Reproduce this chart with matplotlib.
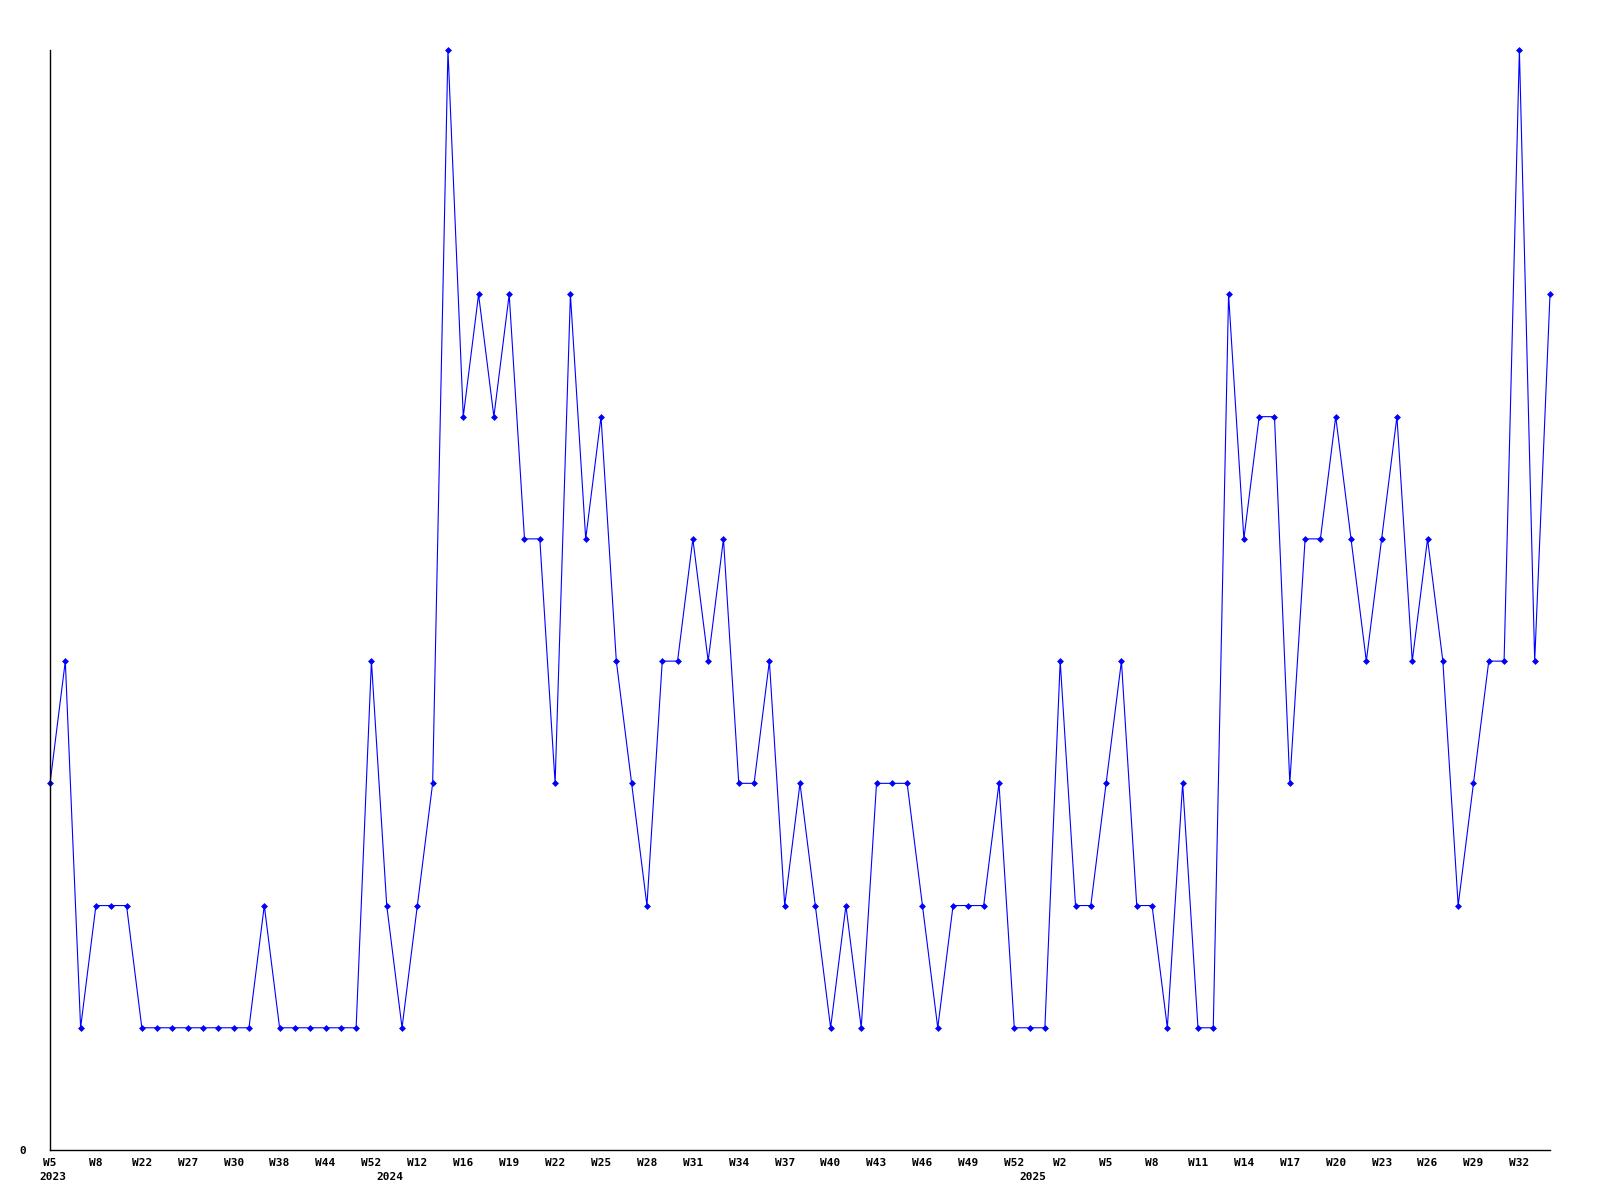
import matplotlib
matplotlib.use('Agg')
import matplotlib.pyplot as plt
import numpy as np

# weekly values, one per plotted week
values = [3, 4, 1, 2, 2, 2, 1, 1, 1, 1, 1, 1, 1, 1, 2, 1, 1, 1, 1, 1,
          1, 4, 2, 1, 2, 3, 9, 6, 7, 6, 7, 5, 5, 3, 7, 5, 6, 4, 3, 2,
          4, 4, 5, 4, 5, 3, 3, 4, 2, 3, 2, 1, 2, 1, 3, 3, 3, 2, 1, 2,
          2, 2, 3, 1, 1, 1, 4, 2, 2, 3, 4, 2, 2, 1, 3, 1, 1, 7, 5, 6,
          6, 3, 5, 5, 6, 5, 4, 5, 6, 4, 5, 4, 2, 3, 4, 4, 9, 4, 7]

# label shown under every third point
week_labels = ['W5', 'W8', 'W22', 'W27', 'W30', 'W38', 'W44', 'W52', 'W12', 'W16',
               'W19', 'W22', 'W25', 'W28', 'W31', 'W34', 'W37', 'W40', 'W43', 'W46',
               'W49', 'W52', 'W2', 'W5', 'W8', 'W11', 'W14', 'W17', 'W20', 'W23',
               'W26', 'W29', 'W32']
years = ['2023', '2024', '2025']
year_idx = [0, 22, 64]   # first plotted week of each year

x = np.arange(len(values))

fig = plt.figure(figsize=(16, 12), dpi=100)
ax = fig.add_axes([50/1600, 50/1200, 1500/1600, 1100/1200])

ax.plot(x, values, color='#0000ff', linewidth=0.8, marker='D', markersize=3,
        markeredgewidth=0.5, clip_on=False)

ax.set_xlim(0, len(values) - 1)
ax.set_ylim(0, 9)

for s in ['top', 'right']:
    ax.spines[s].set_visible(False)
for s in ['left', 'bottom']:
    ax.spines[s].set_linewidth(1.0)
    ax.spines[s].set_color('black')

font = dict(family='DejaVu Sans Mono', weight='bold', size=8)

ax.set_xticks(x[::3])
ax.set_xticklabels(week_labels, ha='center', **font)
for lab in ax.get_xticklabels():
    lab.set_x(lab.get_position()[0])
ax.set_yticks([0])
ax.set_yticklabels(['0'], **font)
ax.tick_params(axis='x', length=0, pad=6)
ax.tick_params(axis='y', length=0, pad=17)

for yr, i in zip(years, year_idx):
    ax.annotate(yr, xy=(i, 0), xycoords=('data', 'axes fraction'),
                xytext=(3, -27), textcoords='offset pixels',
                ha='center', va='center', **font)

plt.savefig('out.png', dpi=100)
plt.close()
